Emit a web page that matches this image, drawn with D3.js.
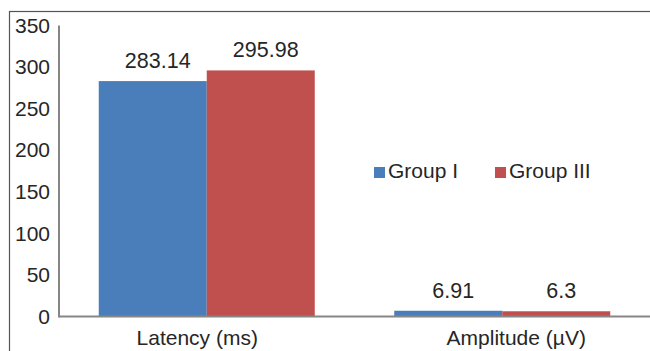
<!DOCTYPE html>
<html><head><meta charset="utf-8">
<script src="https://cdn.jsdelivr.net/npm/d3@7"></script>
<style>html,body{margin:0;padding:0;background:#fff;}svg{display:block;}</style>
</head><body>
<script>
const categories = ["Latency (ms)", "Amplitude (µV)"];
const seriesNames = ["Group I", "Group III"];
const groupI = [283.14, 6.91];
const groupIII = [295.98, 6.3];
const valueLabels = [["283.14", "6.91"], ["295.98", "6.3"]];
const yTicks = [0, 50, 100, 150, 200, 250, 300, 350];
const colors = ["#4A7EBB", "#C0504D"];

(function () {
const W = 650, H = 351;
const svg = d3.select("body").append("svg").attr("width", W).attr("height", H);
const font = "'Liberation Sans', Arial, sans-serif";
const txt = "#262626";

// outer chart border (cropped: only top and left visible)
svg.append("rect").attr("x", 9.5).attr("y", 11.5).attr("width", 700).attr("height", 400)
  .attr("fill", "none").attr("stroke", "#555").attr("stroke-width", 1.2);

const pL = 59, pR = 650, pT = 25.5, pB = 316.5;
const x0 = d3.scaleBand().domain(categories).range([pL, pR]).paddingInner(0).paddingOuter(0);
const x1 = d3.scaleBand().domain(seriesNames).range([0, x0.bandwidth()]).paddingInner(0).paddingOuter(0.368);
const y = d3.scaleLinear().domain([0, 350]).range([pB, pT]);

const series = [groupI, groupIII];
series.forEach((vals, si) => {
  svg.append("g").selectAll("rect").data(vals).join("rect")
    .attr("x", (d, i) => x0(categories[i]) + x1(seriesNames[si]))
    .attr("y", d => y(d))
    .attr("width", x1.bandwidth())
    .attr("height", d => y(0) - y(d))
    .attr("fill", colors[si]);
  svg.append("g").selectAll("text").data(vals).join("text")
    .attr("x", (d, i) => x0(categories[i]) + x1(seriesNames[si]) + x1.bandwidth() / 2)
    .attr("dx", 5)
    .attr("y", d => y(d) - 13)
    .attr("text-anchor", "middle")
    .attr("font-family", font).attr("font-size", 21.5).attr("fill", txt)
    .text((d, i) => valueLabels[si][i]);
});

// y axis
const yAxis = d3.axisLeft(y).tickValues(yTicks).tickSize(0).tickPadding(9);
const gy = svg.append("g").attr("transform", `translate(${pL},0)`).call(yAxis);
gy.select(".domain").attr("stroke", "#868686").attr("stroke-width", 2).attr("d", `M0,${pT}V${pB + 1}`);
gy.selectAll("text").attr("font-family", font).attr("font-size", 21).attr("fill", txt);

// x axis
const xAxis = d3.axisBottom(x0).tickSize(0).tickPadding(14);
const gx = svg.append("g").attr("transform", `translate(0,${pB})`).call(xAxis);
gx.select(".domain").attr("stroke", "#868686").attr("stroke-width", 2).attr("d", `M${pL},0H${pR}`);
const labelShift = [-9.5, 14];
gx.selectAll("text").attr("font-family", font).attr("font-size", 21).attr("fill", txt)
  .attr("dx", (d, i) => labelShift[i]);

// legend
const legX = [374, 495];
const leg = svg.append("g");
seriesNames.forEach((n, i) => {
  leg.append("rect").attr("x", legX[i]).attr("y", 167).attr("width", 11).attr("height", 11).attr("fill", colors[i]);
  leg.append("text").attr("x", legX[i] + 14).attr("y", 178)
    .attr("font-family", font).attr("font-size", 21).attr("fill", txt).text(n);
});
})();
</script>
</body></html>
